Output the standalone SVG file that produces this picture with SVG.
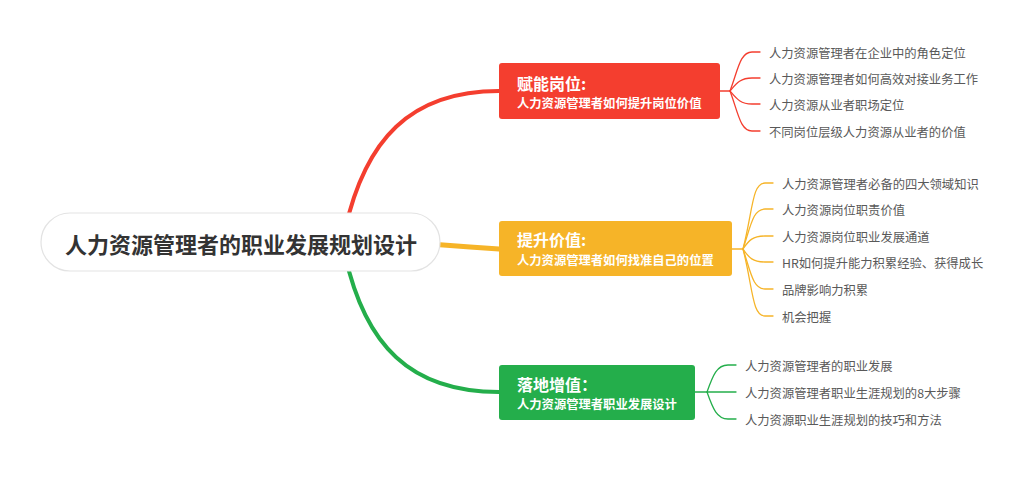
<svg xmlns="http://www.w3.org/2000/svg" width="1017" height="480" viewBox="0 0 1017 480">
<style>
text{font-family:"Microsoft YaHei","Noto Sans CJK SC","Noto Sans",sans-serif;dominant-baseline:central}
.leaf{font-size:12.3px;fill:#595959}
.title{font-size:16px;font-weight:bold;fill:#fff}
.sub{font-size:12.3px;font-weight:bold;fill:#fff}
.root{font-size:22px;font-weight:bold;fill:#333;text-anchor:middle}
.c{fill:none;stroke-linecap:round}
.r{stroke:#F43E2F}.y{stroke:#F6B428}.g{stroke:#24AE4B}
</style>
<rect width="1017" height="480" fill="#fff"/>
<g id="connectors">
<path class="c r" stroke-width="4" d="M345,230 C365,140 410,91 499,91"/>
<path class="c g" stroke-width="4" d="M345,255 C365,345 410,392 499,392"/>
<path class="c y" stroke-width="5" d="M430,244 L470,247 L499,249"/>
<g class="c r" stroke-width="1.3">
<path d="M720,91 H730"/>
<path d="M730,91 C738,70 740,52 752,52 H760"/>
<path d="M730,91 C736,84 740,78 752,78 H760"/>
<path d="M730,91 C736,98 740,104 752,104 H760"/>
<path d="M730,91 C738,112 740,131 752,131 H760"/>
</g>
<g class="c y" stroke-width="1.3">
<path d="M732,249 H743"/>
<path d="M743,249 C753,210 752,183 765,183 H773"/>
<path d="M743,249 C751,225 753,209 765,209 H773"/>
<path d="M743,249 C749,240 753,236 765,236 H773"/>
<path d="M743,249 C749,258 753,262 765,262 H773"/>
<path d="M743,249 C751,273 753,289 765,289 H773"/>
<path d="M743,249 C753,288 752,316 765,316 H773"/>
</g>
<g class="c g" stroke-width="1.3">
<path d="M695,392 H736"/>
<path d="M707,392 C713,375 717,365 728,365 H736"/>
<path d="M707,392 C713,409 717,419 728,419 H736"/>
</g>
</g>
<g id="root">
<rect x="41" y="213" width="399" height="58" rx="29" fill="#fff" stroke="#e3e3e3" stroke-width="1.2"/>
<text class="root" x="241" y="243">人力资源管理者的职业发展规划设计</text>
</g>
<g id="n1">
<rect x="499" y="63" width="221" height="56" rx="3" fill="#F43E2F"/>
<text class="title" x="517" y="83">赋能岗位:</text>
<text class="sub" x="517" y="103">人力资源管理者如何提升岗位价值</text>
</g>
<g id="n2">
<rect x="499" y="221" width="233" height="55" rx="3" fill="#F6B428"/>
<text class="title" x="517" y="239">提升价值:</text>
<text class="sub" x="517" y="260">人力资源管理者如何找准自己的位置</text>
</g>
<g id="n3">
<rect x="499" y="365" width="196" height="55" rx="3" fill="#24AE4B"/>
<text class="title" x="517" y="384">落地增值：</text>
<text class="sub" x="517" y="404">人力资源管理者职业发展设计</text>
</g>
<g id="leaves1">
<text class="leaf" x="769" y="53">人力资源管理者在企业中的角色定位</text>
<text class="leaf" x="769" y="79">人力资源管理者如何高效对接业务工作</text>
<text class="leaf" x="769" y="105">人力资源从业者职场定位</text>
<text class="leaf" x="769" y="132">不同岗位层级人力资源从业者的价值</text>
</g>
<g id="leaves2">
<text class="leaf" x="782" y="184">人力资源管理者必备的四大领域知识</text>
<text class="leaf" x="782" y="210">人力资源岗位职责价值</text>
<text class="leaf" x="782" y="237">人力资源岗位职业发展通道</text>
<text class="leaf" x="782" y="263">HR如何提升能力积累经验、获得成长</text>
<text class="leaf" x="782" y="290">品牌影响力积累</text>
<text class="leaf" x="782" y="317">机会把握</text>
</g>
<g id="leaves3">
<text class="leaf" x="745" y="366">人力资源管理者的职业发展</text>
<text class="leaf" x="745" y="393">人力资源管理者职业生涯规划的8大步骤</text>
<text class="leaf" x="745" y="420">人力资源职业生涯规划的技巧和方法</text>
</g>
</svg>
